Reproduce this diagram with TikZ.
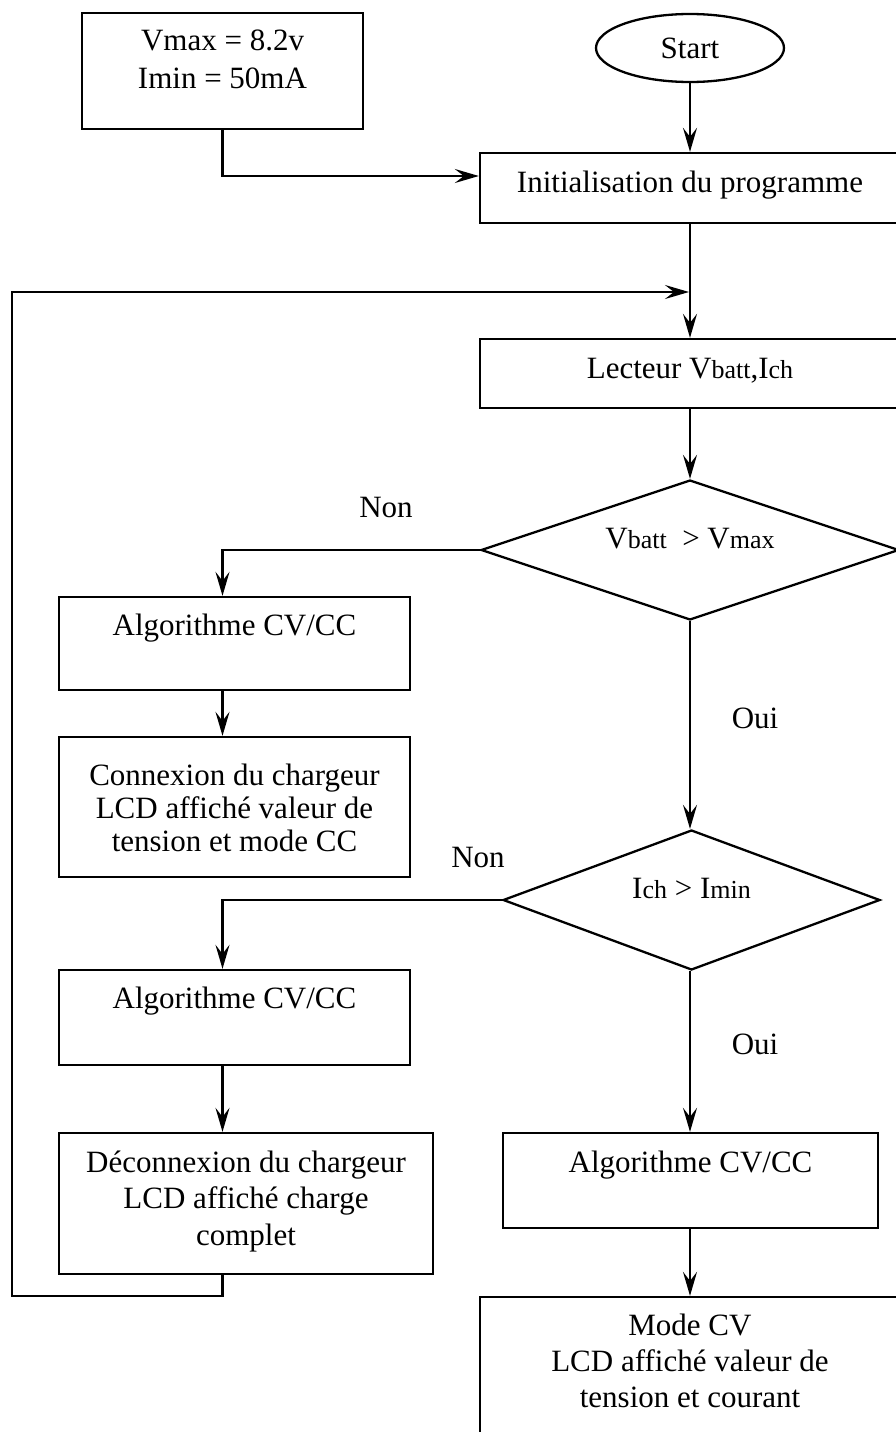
\documentclass[tikz,border=0pt]{standalone}
\usepackage{fontspec}
\setmainfont{Liberation Serif}
\usetikzlibrary{shapes.geometric,arrows.meta}
\newcommand\mainsz{\fontsize{31}{36}\selectfont}
\newcommand\subsz[1]{{\fontsize{26}{30}\selectfont #1}}
\newcommand\boxtext[5]{\parbox[c][#2][t]{#1}{\centering\fontsize{31}{#4}\selectfont\rule{0pt}{#3}#5}}
\begin{document}
\begin{tikzpicture}[x=1pt,y=-1pt,line width=2.3pt,
 box/.style={draw,rectangle,inner sep=0pt,font=\mainsz},
 dia/.style={draw,diamond,aspect=3,inner sep=0pt,font=\mainsz,text height=20pt,text depth=24pt},
 arr/.style={-{Stealth[length=24pt,width=14pt,inset=9pt]}},
 lbl/.style={font=\mainsz,anchor=base,inner sep=0pt}]
\useasboundingbox (0,0) rectangle (896,1432);
% nodes
\node[box] (vm) at (222.5,71) {\boxtext{281pt}{116pt}{37pt}{38pt}{Vmax = 8.2v\\Imin = 50mA}};
\node[draw,ellipse,minimum width=188pt,minimum height=68pt,inner sep=0pt,font=\mainsz] (start) at (690,48) {Start};
\node[box] (init) at (690,188) {\boxtext{420pt}{70pt}{39pt}{36pt}{Initialisation du programme}};
\node[box] (lect) at (690,373.5) {\boxtext{420pt}{69pt}{39pt}{36pt}{Lecteur V\subsz{batt},I\subsz{ch}}};
\node[dia,minimum width=418pt,minimum height=140pt] (d1) at (690,550) {V\subsz{batt}~ > V\subsz{max}};
\node[box] (algo1) at (234.5,643.5) {\boxtext{351pt}{93pt}{38pt}{36pt}{Algorithme CV/CC}};
\node[box] (conn) at (234.5,807) {\boxtext{351pt}{140pt}{48pt}{33pt}{Connexion du chargeur\\LCD affiché valeur de\\tension et mode CC}};
\node[dia,minimum width=377pt,minimum height=140pt] (d2) at (691.5,900) {I\subsz{ch} > I\subsz{min}};
\node[box] (algo2) at (234.5,1017.5) {\boxtext{351pt}{95pt}{38pt}{36pt}{Algorithme CV/CC}};
\node[box] (decon) at (246,1203.5) {\boxtext{374pt}{141pt}{39pt}{36.5pt}{Déconnexion du chargeur\\LCD affiché charge\\complet}};
\node[box] (algo3) at (690.5,1180.5) {\boxtext{375pt}{95pt}{39pt}{36pt}{Algorithme CV/CC}};
\node[box] (mode) at (690,1373.5) {\boxtext{420pt}{153pt}{38pt}{36pt}{Mode CV\\LCD affiché valeur de\\tension et courant}};
% labels
\node[lbl] (non1) at (386,517) {Non};
\node[lbl] (oui1) at (755,728) {Oui};
\node[lbl] (non2) at (478,867) {Non};
\node[lbl] (oui2) at (755,1054) {Oui};
% helper coordinates
\coordinate (col) at (690,0);
\coordinate (lcol) at (222.5,0);
\coordinate (y176) at (0,176);
\coordinate (fbB) at (12,1296);
\coordinate (fbT) at (689,292);
% connectors
\draw[arr] (start.south) -- (start.south |- init.north);
\draw[arr] (vm.south) |- (init.west |- y176);
\draw[arr] (init.south -| col) -- (lect.north -| col);
\draw[arr] (lect.south -| col) -- (d1.north);
\draw[arr] (d1.west) -| (algo1.north -| lcol);
\draw[arr] (algo1.south -| lcol) -- (conn.north -| lcol);
\draw[arr] (d1.south) -- (d2.north -| col);
\draw[arr] (d2.west) -| (algo2.north -| lcol);
\draw[arr] (algo2.south -| lcol) -- (decon.north -| lcol);
\draw[arr] (d2.south -| col) -- (algo3.north -| col);
\draw[arr] (algo3.south -| col) -- (mode.north -| col);
\draw[arr] (decon.south -| lcol) |- (fbB) |- (fbT);
\end{tikzpicture}
\end{document}
